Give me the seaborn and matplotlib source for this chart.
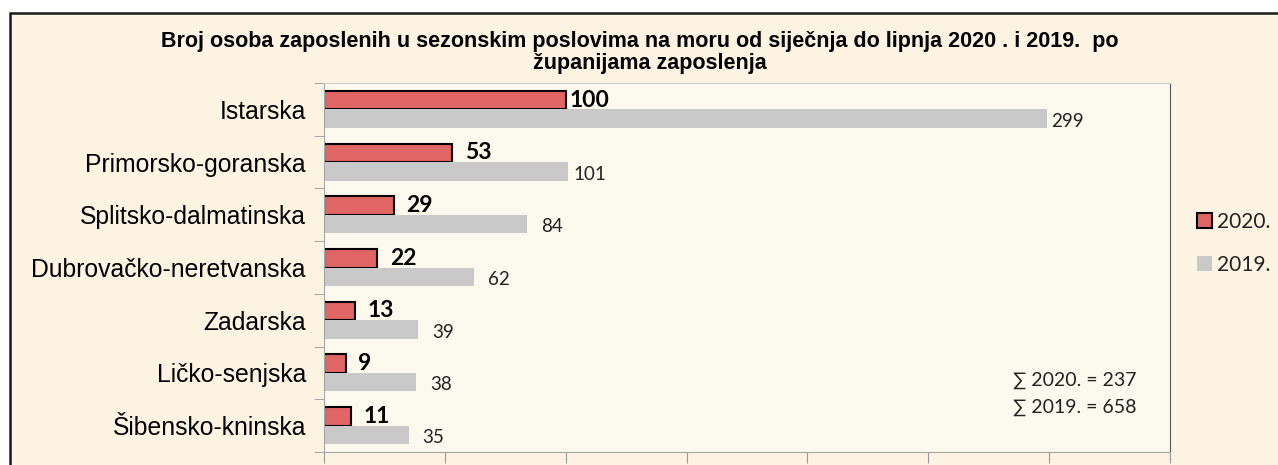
import numpy as np
import pandas as pd
import seaborn as sns
import matplotlib.pyplot as plt
from matplotlib.patches import Rectangle, Patch

# seasonal sea jobs, Jan-Jun, by county of employment
zupanije = ['Istarska', 'Primorsko-goranska', 'Splitsko-dalmatinska',
            'Dubrovačko-neretvanska', 'Zadarska', 'Ličko-senjska',
            'Šibensko-kninska']
broj_2020 = [100, 53, 29, 22, 13, 9, 11]
broj_2019 = [299, 101, 84, 62, 39, 38, 35]
godine = ['2020.', '2019.']
boje = {'2020.': '#E06666', '2019.': '#C9C9C9'}

df = pd.DataFrame({
    'zupanija': zupanije * 2,
    'godina': ['2020.'] * len(zupanije) + ['2019.'] * len(zupanije),
    'broj': broj_2020 + broj_2019,
})

W, H = 1278, 465
fig = plt.figure(figsize=(W / 100, H / 100), dpi=100)
fig.patch.set_facecolor('white')

# outer chart frame
fig.patches.append(Rectangle((10 / W, -0.2), 1.2, (H - 13) / H + 0.2,
                             transform=fig.transFigure, facecolor='#FDF3E2',
                             edgecolor='#1a1a1a', linewidth=1.8, zorder=-10))

ax = fig.add_axes([324 / W, 1 - 452 / H, (1170 - 324) / W, (452 - 83) / H])
ax.set_facecolor('#FCF9EF')

sns.barplot(data=df, y='zupanija', x='broj', hue='godina', hue_order=godine,
            palette=boje, orient='h', width=0.7, saturation=1, ax=ax,
            legend=False)

for bar in ax.containers[0]:
    bar.set_edgecolor('black')
    bar.set_linewidth(1.5)

labels_2020 = ax.bar_label(ax.containers[0], padding=9, fontsize=16.5,
                           fontweight='bold', family=['Lato', 'DejaVu Sans'],
                           color='black')
labels_2019 = ax.bar_label(ax.containers[1], padding=10, fontsize=13.5,
                           family=['Lato', 'DejaVu Sans'], color='#222222')
for lab in labels_2019:
    lab.xyann = (10, -2)
# labels were nudged by hand in the original, long bars have them closer
labels_2020[0].xyann = (3, 0)
labels_2019[0].xyann = (3, -2)
labels_2019[1].xyann = (4, -2)

ax.set_xlim(0, 350)
ax.set_xticks(np.arange(0, 351, 50))
ax.set_xticklabels([])
ax.tick_params(axis='x', length=8, color='#999999')
ax.set_xlabel('')
ax.set_ylabel('')

ax.set_yticks(range(len(zupanije)))
ax.set_yticklabels(zupanije, family='Liberation Sans', fontsize=17.8)
ax.tick_params(axis='y', which='major', length=0, pad=13)
ax.set_yticks(np.arange(-0.5, len(zupanije), 1), minor=True)
ax.tick_params(axis='y', which='minor', length=7, color='#999999')

for side in ['left', 'bottom']:
    ax.spines[side].set_color('#A6A6A6')
ax.spines['top'].set_color('#CCCCCC')
ax.spines['right'].set_color('#555555')

fig.text(640 / W, 1 - 42 / H,
         'Broj osoba zaposlenih u sezonskim poslovima na moru od siječnja do lipnja 2020 . i 2019.  po',
         ha='center', va='center', fontsize=15.5, fontweight='bold',
         family='Liberation Sans')
fig.text(650 / W, 1 - 63 / H, 'županijama zaposlenja',
         ha='center', va='center', fontsize=15.5, fontweight='bold',
         family='Liberation Sans')

fig.text(1013 / W, 1 - 380 / H, '∑ 2020. = 237', ha='left', va='center',
         fontsize=14, family=['Lato', 'DejaVu Sans'], color='#222222')
fig.text(1013 / W, 1 - 407 / H, '∑ 2019. = 658', ha='left', va='center',
         fontsize=14, family=['Lato', 'DejaVu Sans'], color='#222222')

handles = [Patch(facecolor=boje['2020.'], edgecolor='black', linewidth=1.5),
           Patch(facecolor=boje['2019.'], edgecolor='none')]
fig.legend(handles, godine, loc='upper left',
           bbox_to_anchor=(1178 / W, 1 - 193 / H), frameon=False,
           prop={'family': 'Lato', 'size': 15}, handlelength=0.75,
           handleheight=0.75, handletextpad=0.2, labelspacing=1.1,
           labelcolor='#222222')

fig.savefig('out.png', dpi=100)
